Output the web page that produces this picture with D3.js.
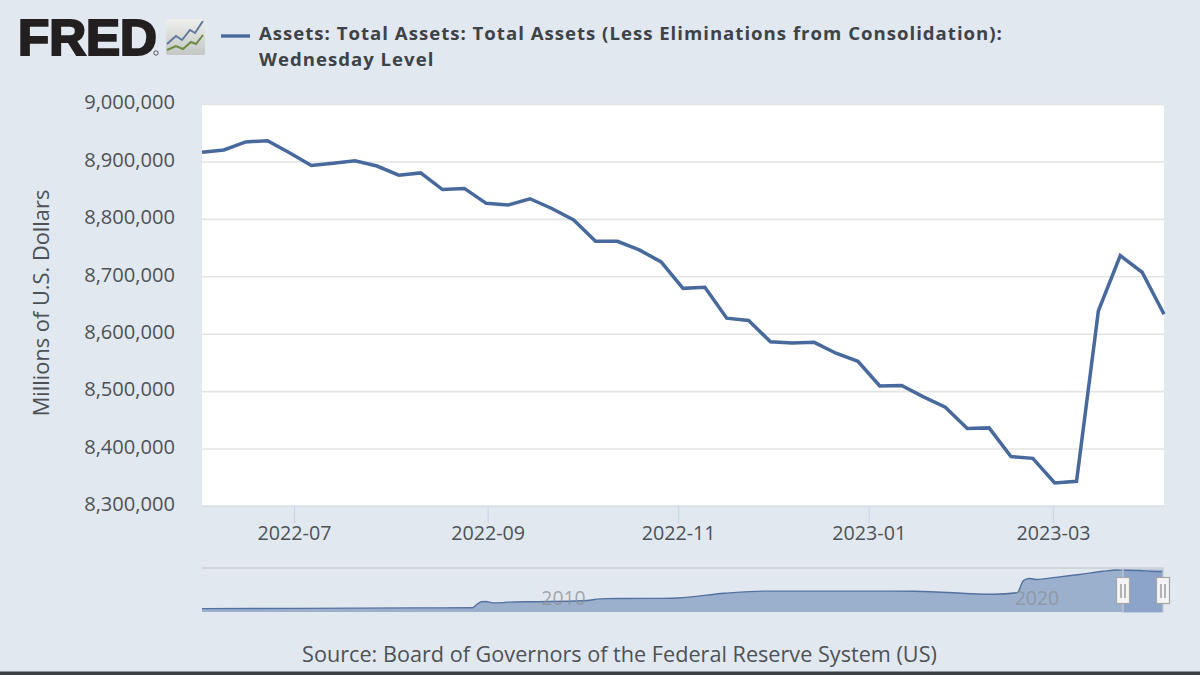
<!DOCTYPE html>
<html><head><meta charset="utf-8">
<script src="https://cdn.jsdelivr.net/npm/d3@7/dist/d3.min.js"></script>
<style>html,body{margin:0;padding:0;background:#e1e8f0;overflow:hidden}svg{display:block}text{font-family:"Open Sans",sans-serif}</style>
</head><body><svg id="c" width="1200" height="675"></svg>
<script>
const startDate = "2022-06-01";
const weeklyValues = [8916,8920,8934,8936,8915,8893,8897,8901,8892,8876,8880,8851,8853,8827,8824,8835,8818,8798,8761,8761,8746,8725,8679,8681,8627,8623,8586,8584,8585,8566,8552,8509,8510,8490,8472,8435,8436,8386,8383,8340,8343,8640,8736,8707,8634];
const yTicks = [8300,8400,8500,8600,8700,8800,8900,9000];
const xTickDates = ["2022-07-01","2022-09-01","2022-11-01","2023-01-01","2023-03-01"];
const navDates = ["2002-12-18","2005-01-05","2007-06-06","2008-09-03","2008-10-01","2008-11-12","2008-12-17","2009-02-04","2009-04-22","2009-06-03","2009-12-30","2010-12-29","2011-06-29","2012-06-27","2013-01-02","2014-01-01","2014-10-29","2017-01-04","2018-01-03","2019-09-04","2020-03-04","2020-03-18","2020-04-15","2020-05-13","2020-06-10","2020-07-29","2020-12-30","2021-06-30","2021-12-29","2022-04-13","2022-06-01","2022-10-05","2023-01-04","2023-04-05"];
const navValues = [0.72,0.78,0.87,0.91,1.5,2.2,2.25,1.95,2.0,2.1,2.2,2.4,2.85,2.9,3.0,4.0,4.45,4.45,4.44,3.78,4.1,4.5,6.4,7.0,7.15,6.95,7.4,8.0,8.7,8.96,8.93,8.85,8.7,8.63];
const navLabels = ["2010","2020"];
const title = ["Assets: Total Assets: Total Assets (Less Eliminations from Consolidation):","Wednesday Level"];
const yTitle = "Millions of U.S. Dollars";
const source = "Source: Board of Governors of the Federal Reserve System (US)";

const parse = d3.utcParse("%Y-%m-%d");
const svg = d3.select("#c");
const L=202,R=1164,T=104,B=506;
const t0 = parse(startDate);
const dates = weeklyValues.map((_,i)=>d3.utcDay.offset(t0,i*7));
const x = d3.scaleUtc().domain([t0,dates[dates.length-1]]).range([L,R]);
const y = d3.scaleLinear().domain([8300,9000]).range([B,T]);
const ink="#4d5257", lineC="#48699c";

svg.append("rect").attr("width",1200).attr("height",675).attr("fill","#e1e8f0");
svg.append("rect").attr("x",L).attr("y",T).attr("width",R-L).attr("height",B-T).attr("fill","#fff");

// y axis
const gy = svg.append("g").attr("transform",`translate(${L},0)`)
  .call(d3.axisLeft(y).tickValues(yTicks).tickSize(-(R-L)).tickPadding(27).tickFormat(d=>d3.format(",")(d*1000)));
gy.select(".domain").remove();
gy.selectAll("line").attr("stroke","#e4e4e4").attr("stroke-width",1.6);
gy.selectAll("text").attr("fill",ink).attr("font-size",20.1).attr("dy","0.24em").style("font-family",'"Open Sans",sans-serif');

// x axis
svg.append("line").attr("x1",L).attr("x2",R).attr("y1",B).attr("y2",B).attr("stroke","#ccd6eb").attr("stroke-width",1.2);
const gx = svg.append("g").attr("transform",`translate(-1.7,${B})`)
  .call(d3.axisBottom(x).tickValues(xTickDates.map(parse)).tickSize(17).tickSizeOuter(0).tickPadding(3).tickFormat(d3.utcFormat("%Y-%m")));
gx.select(".domain").remove();
gx.selectAll("line").attr("stroke","#ccd6eb").attr("stroke-width",1.2);
gx.selectAll("text").attr("fill",ink).attr("font-size",19.7).style("font-family",'"Open Sans",sans-serif');

svg.append("path").datum(weeklyValues)
  .attr("fill","none").attr("stroke",lineC).attr("stroke-width",3.5).attr("stroke-linejoin","miter")
  .attr("d",d3.line().x((d,i)=>x(dates[i])).y(d=>y(d)));

// navigator
const NT=568,NB=612,NL=202,NR=1163;
const nd = navDates.map(parse);
const nx = d3.scaleUtc().domain([nd[0],nd[nd.length-1]]).range([NL,NR]);
const ny = d3.scaleLinear().domain([0,8.965]).range([NB,570]);
svg.append("path").datum(navValues).attr("fill","#9bb0cd")
  .attr("d",d3.area().curve(d3.curveMonotoneX).x((d,i)=>nx(nd[i])).y0(NB).y1(d=>ny(d)));
const selL = 1123;
svg.append("rect").attr("x",selL).attr("y",NT+1).attr("width",NR-selL).attr("height",NB-NT).attr("fill","#6685c2").attr("fill-opacity",.28);
svg.append("line").attr("x1",NL).attr("x2",NR+1).attr("y1",NT).attr("y2",NT).attr("stroke","#cbcfd2").attr("stroke-width",1.5);
svg.append("path").datum(navValues).attr("fill","none").attr("stroke","#55719f").attr("stroke-width",1.4)
  .attr("d",d3.line().curve(d3.curveMonotoneX).x((d,i)=>nx(nd[i])).y(d=>ny(d)));
svg.selectAll(".nl").data(navLabels).join("text").attr("class","nl")
  .attr("x",d=>nx(parse(d+"-01-01"))+6).attr("y",605).attr("font-size",19.4).attr("fill","#8b9097").attr("fill-opacity",.75).text(d=>d);
[selL,NR].forEach(h=>{
  const g=svg.append("g").attr("transform",`translate(${h},0)`);
  g.append("line").attr("y1",NT).attr("y2",NB+1).attr("stroke","#c9ccd0").attr("stroke-width",1.2);
  g.append("rect").attr("x",-6.5).attr("y",577.5).attr("width",13).attr("height",26).attr("fill","#f4f4f4").attr("stroke","#a6a6a6").attr("stroke-width",1.2);
  [-2,2].forEach(o=>g.append("line").attr("x1",o).attr("x2",o).attr("y1",584).attr("y2",598).attr("stroke","#888").attr("stroke-width",1.2));
});

// header
svg.append("line").attr("x1",221).attr("x2",250).attr("y1",36).attr("y2",36).attr("stroke",lineC).attr("stroke-width",3.4);
svg.selectAll(".ttl").data(title).join("text").attr("class","ttl").attr("x",259)
  .attr("y",(d,i)=>i?66:39.5).attr("font-size",18.6).attr("font-weight",700).attr("letter-spacing",1.0).attr("fill","#3e4347").text(d=>d);

// logo
svg.append("text").attr("x",18).attr("y",54.5).attr("font-size",50).attr("font-weight",700)
  .style("font-family",'"Liberation Sans",sans-serif').attr("fill","#231f20").attr("stroke","#231f20").attr("stroke-width",2.2).attr("textLength",139).attr("lengthAdjust","spacingAndGlyphs").text("FRED");
svg.append("circle").attr("cx",156).attr("cy",53).attr("r",2.2).attr("fill","none").attr("stroke","#231f20").attr("stroke-width",.7);
const ic=svg.append("g");
const grad=svg.append("defs").append("linearGradient").attr("id","ig").attr("x1",0).attr("x2",0).attr("y1",0).attr("y2",1);
grad.append("stop").attr("offset",0).attr("stop-color","#efefeb");grad.append("stop").attr("offset",1).attr("stop-color","#c3c7c5");
ic.append("rect").attr("x",166).attr("y",19).attr("width",39).attr("height",36).attr("rx",2).attr("fill","url(#ig)");
ic.append("path").attr("d","M167 44L176 36L182 40L190 30L195 33L203 21").attr("fill","none").attr("stroke","#5f7a9e").attr("stroke-width",2);
ic.append("path").attr("d","M167 50L176 46L183 49L191 42L196 44L203 35").attr("fill","none").attr("stroke","#6d8a45").attr("stroke-width",2);

// titles
svg.append("text").attr("transform","translate(48.5,303) rotate(-90)").attr("text-anchor","middle").attr("font-size",21.8).attr("fill",ink).text(yTitle);
svg.append("text").attr("x",619.5).attr("y",661.5).attr("text-anchor","middle").attr("font-size",21.65).attr("fill",ink).text(source);
svg.append("rect").attr("x",0).attr("y",671.5).attr("width",1200).attr("height",4).attr("fill","#3b3f44");
</script></body></html>
